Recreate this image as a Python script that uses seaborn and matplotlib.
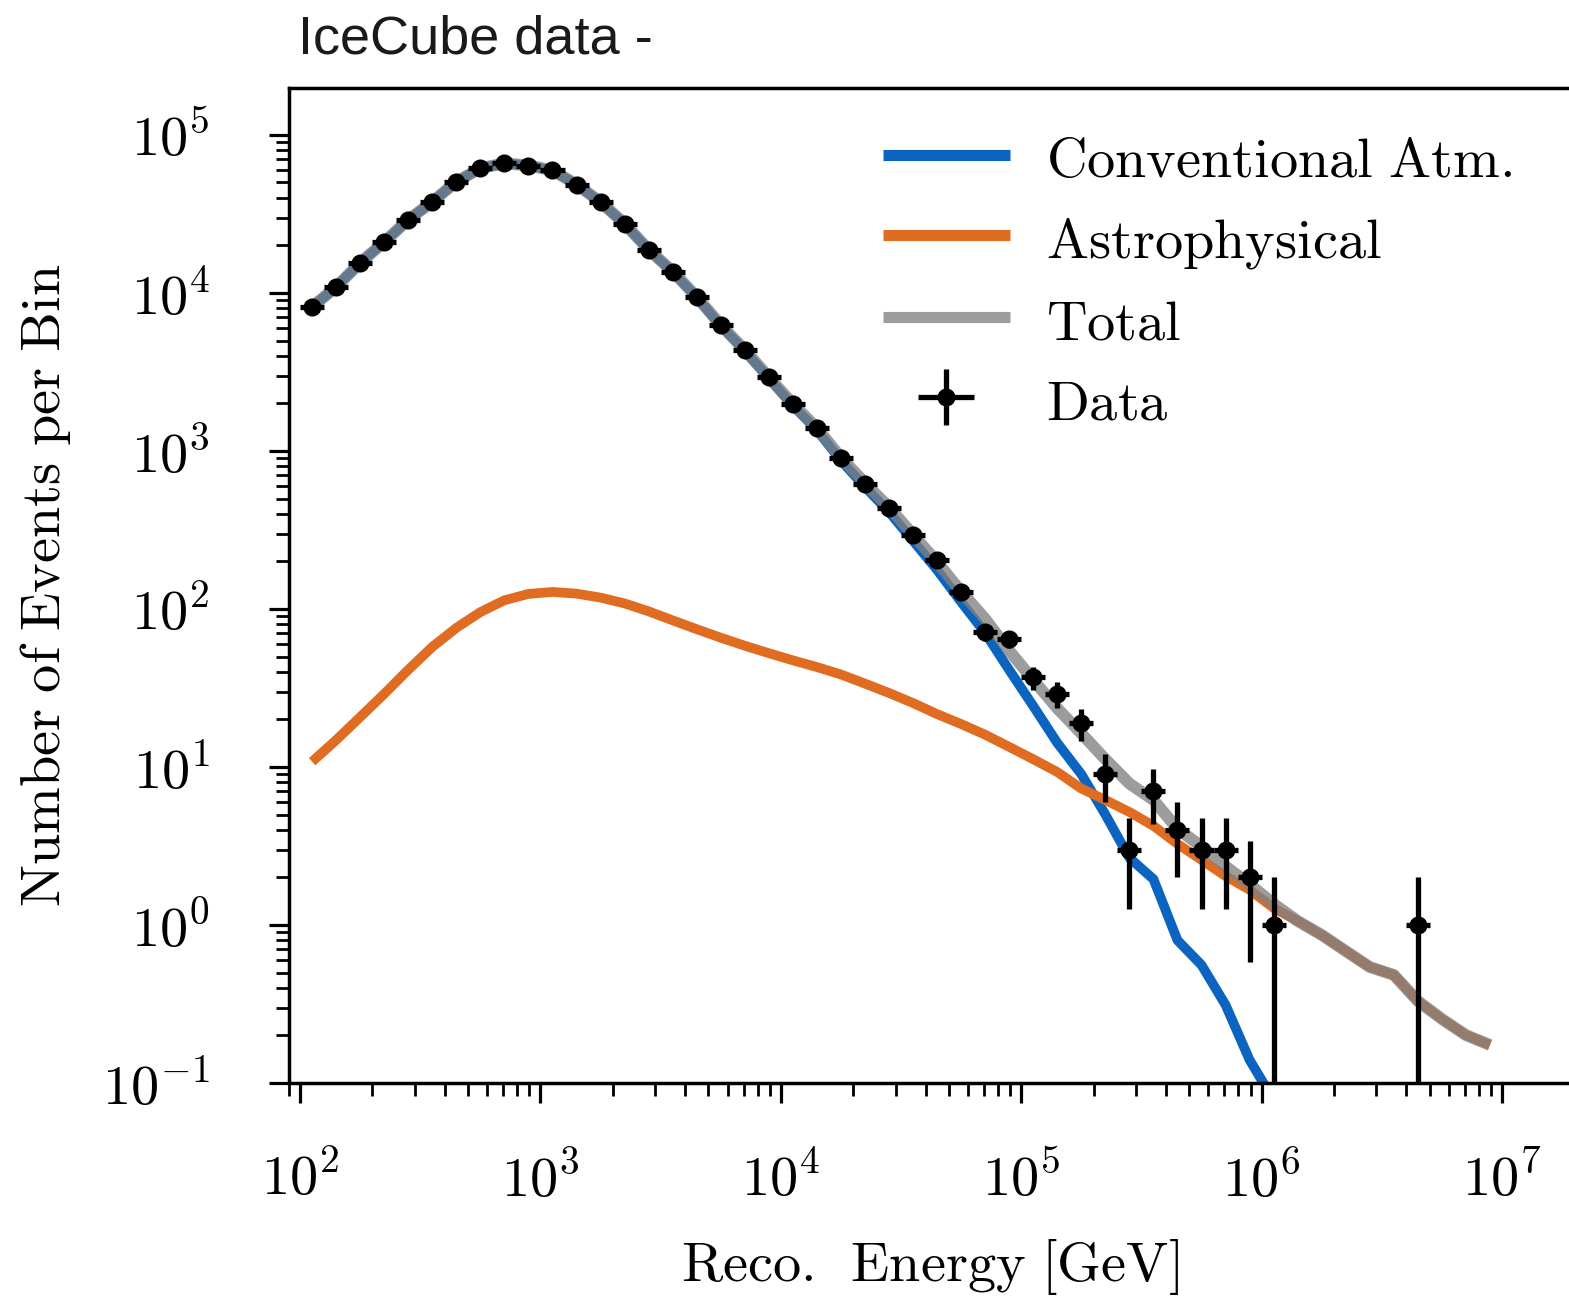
import numpy as np
import pandas as pd
import matplotlib
matplotlib.use("Agg")
import matplotlib.pyplot as plt
import seaborn as sns
from matplotlib.ticker import LogLocator, FuncFormatter, NullFormatter
from matplotlib.lines import Line2D

# ---------------- data ----------------
log_centers = [2.05, 2.15, 2.25, 2.35, 2.45, 2.55, 2.65, 2.75, 2.85, 2.95,
               3.05, 3.15, 3.25, 3.35, 3.45, 3.55, 3.65, 3.75, 3.85, 3.95,
               4.05, 4.15, 4.25, 4.35, 4.45, 4.55, 4.65, 4.75, 4.85, 4.95,
               5.05, 5.15, 5.25, 5.35, 5.45, 5.55, 5.65, 5.75, 5.85, 5.95,
               6.05, 6.15, 6.25, 6.35, 6.45, 6.55, 6.65, 6.75, 6.85, 6.95]

conv_atm = [8150, 10900, 15500, 21000, 29000, 37700, 50500, 61500, 66000, 64000,
            59500, 48500, 37500, 27300, 18700, 13600, 9370, 6200, 4300, 2880,
            1935, 1355, 870, 592, 411, 270, 176.6, 110.7, 70.5, 41.1,
            24.3, 14.2, 9.0, 5.0, 2.66, 1.95, 0.80, 0.558, 0.312, 0.140, 0.078]

astro = [10.8, 14.8, 20.7, 29.0, 41.2, 57.5, 75.9, 95.5, 113.5, 124.5,
         128.2, 125.0, 118.0, 108.4, 96.6, 84.7, 74.5, 65.8, 58.5, 52.5,
         47.3, 42.9, 38.5, 33.7, 29.4, 25.4, 21.6, 18.7, 16.0, 13.4,
         11.2, 9.29, 7.3, 6.18, 5.19, 4.24, 3.26, 2.58, 2.04, 1.67,
         1.28, 1.06, 0.865, 0.684, 0.542, 0.483, 0.330, 0.254, 0.201, 0.174]

total = [8161, 10915, 15521, 21029, 29041, 37758, 50576, 61596, 66114, 64125,
         59628, 48625, 37618, 27408, 18797, 13685, 9444, 6266, 4358, 2932,
         1982, 1398, 908, 626, 440, 295, 198, 129, 86.5, 54.5,
         35.5, 23.5, 16.3, 11.2, 7.85, 6.19, 4.06, 3.14, 2.35, 1.81,
         1.36, 1.06, 0.865, 0.684, 0.542, 0.483, 0.330, 0.254, 0.201, 0.174]

data_log_centers = [2.05, 2.15, 2.25, 2.35, 2.45, 2.55, 2.65, 2.75, 2.85, 2.95,
                    3.05, 3.15, 3.25, 3.35, 3.45, 3.55, 3.65, 3.75, 3.85, 3.95,
                    4.05, 4.15, 4.25, 4.35, 4.45, 4.55, 4.65, 4.75, 4.85, 4.95,
                    5.05, 5.15, 5.25, 5.35, 5.45, 5.55, 5.65, 5.75, 5.85, 5.95,
                    6.05, 6.65]
data_counts = [8150, 10900, 15500, 21000, 29000, 37700, 50500, 61800, 66500, 63700,
               60000, 48300, 37700, 27400, 18700, 13600, 9440, 6270, 4350, 2940,
               1980, 1400, 904, 618, 436, 294, 204, 128, 71, 65,
               37, 29, 19, 9, 3, 7, 4, 3, 3, 2,
               1, 1]

legend_labels = [r"$\mathrm{Conventional\ Atm.}$", r"$\mathrm{Astrophysical}$",
                 r"$\mathrm{Total}$", r"$\mathrm{Data}$"]
title_text = "IceCube data -"
xlabel_text = r"$\mathrm{Reco.\ \,Energy\ [GeV]}$"
ylabel_text = r"$\mathrm{Number\ of\ Events\ per\ Bin}$"

# ---------------- style ----------------
sns.set_style("ticks")
plt.rcParams.update({
    "mathtext.fontset": "cm",
    "axes.linewidth": 2.5,
    "lines.solid_capstyle": "butt",
    "text.color": "black",
    "axes.labelcolor": "black",
    "xtick.color": "black",
    "ytick.color": "black",
    "axes.edgecolor": "black",
})

BLUE = "#0a64c0"
ORANGE = "#e06c22"
GRAY = "#808080"
FS = 40.5
HALF_BIN = 0.05

fig = plt.figure(figsize=(15.69, 12.96), dpi=100)
ax = fig.add_axes([288.5 / 1569, 1 - 1083 / 1296, (1571.7 - 288.5) / 1569, (1083 - 88) / 1296])
ax.set_xscale("log")
ax.set_yscale("log", nonpositive="clip")

E = 10 ** np.array(log_centers)
df = pd.DataFrame({"E": E, "astro": astro, "total": total})
df_conv = pd.DataFrame({"E": E[:len(conv_atm)], "conv": conv_atm})

sns.lineplot(data=df_conv, x="E", y="conv", ax=ax, color=BLUE, lw=7,
             estimator=None, sort=False, legend=False)
sns.lineplot(data=df, x="E", y="astro", ax=ax, color=ORANGE, lw=7,
             estimator=None, sort=False, legend=False)
sns.lineplot(data=df, x="E", y="total", ax=ax, color=GRAY, alpha=0.78, lw=8.5,
             estimator=None, sort=False, legend=False)

dlc = np.array(data_log_centers)
dE = 10 ** dlc
dN = np.array(data_counts, dtype=float)
xerr = np.vstack([dE - 10 ** (dlc - HALF_BIN), 10 ** (dlc + HALF_BIN) - dE])
yerr = np.sqrt(dN)
eb = ax.errorbar(dE, dN, xerr=xerr, yerr=yerr, fmt="o", color="black",
                 ms=12, elinewidth=3.8, capsize=0, zorder=5)

ax.set_xlim(89.5, 10 ** 7.29)
ax.set_ylim(0.1, 10 ** 5.297)

fmt = FuncFormatter(lambda v, p: r"$\mathrm{10^{%d}}$" % int(round(np.log10(v))))
for axis in (ax.xaxis, ax.yaxis):
    axis.set_major_locator(LogLocator(base=10, numticks=30))
    axis.set_minor_locator(LogLocator(base=10, subs=np.arange(2, 10), numticks=30))
    axis.set_major_formatter(fmt)
    axis.set_minor_formatter(NullFormatter())

ax.tick_params(axis="both", which="major", direction="out", length=14.5, width=2.3,
               labelsize=FS, color="black", labelcolor="black")
ax.tick_params(axis="both", which="minor", direction="out", length=9.5, width=2.0,
               color="black")
ax.tick_params(axis="x", which="major", pad=36)
ax.tick_params(axis="y", which="major", pad=42)

for s in ax.spines.values():
    s.set_linewidth(2.5)
    s.set_color("black")

ax.set_xlabel(xlabel_text, fontsize=FS, color="black")
ax.set_ylabel(ylabel_text, fontsize=FS, color="black")
ax.xaxis.set_label_coords(0.5, -(1237 - 1083) / 995)
ax.yaxis.set_label_coords(-(288.5 - 73) / 1283.2, 0.5)

handles = [Line2D([], [], color=BLUE, lw=8),
           Line2D([], [], color=ORANGE, lw=8),
           Line2D([], [], color=GRAY, alpha=0.78, lw=8),
           eb]
ax.legend(handles, legend_labels, loc="upper left",
          bbox_to_anchor=(883 / 1569, 1 - 133 / 1296), bbox_transform=fig.transFigure,
          frameon=False, fontsize=FS, handlelength=2.25, handletextpad=0.65,
          labelspacing=0.42, handleheight=1.0, borderpad=0, borderaxespad=0)

fig.text(298 / 1569, 1 - 53 / 1296, title_text, fontsize=39, color="#1a1a1a",
         family=["Liberation Sans", "DejaVu Sans"], ha="left", va="baseline")

fig.savefig("out.png", dpi=100)
